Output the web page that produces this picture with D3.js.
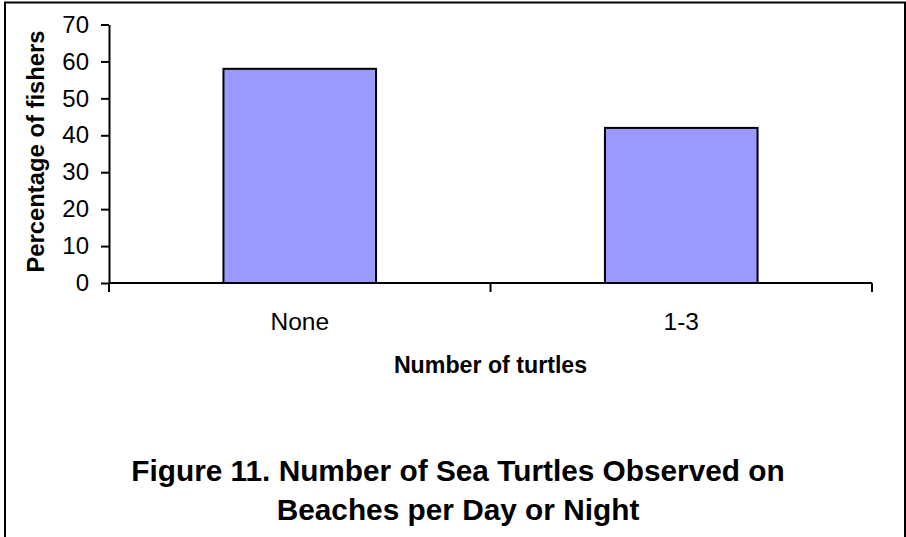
<!DOCTYPE html>
<html>
<head>
<meta charset="utf-8">
<script src="https://cdn.jsdelivr.net/npm/d3@7"></script>
<style>
  html, body { margin: 0; padding: 0; background: #fff; }
  svg { display: block; }
  text { font-family: "Liberation Sans", Arial, sans-serif; fill: #000; }
</style>
</head>
<body>
<script>
// Survey results: share of fishers by number of turtles seen
const categories = ["None", "1-3"];
const percentages = [58, 42];
const yTicks = [0, 10, 20, 30, 40, 50, 60, 70];
const titleLines = ["Figure 11. Number of Sea Turtles Observed on", "Beaches per Day or Night"];
const xTitle = "Number of turtles";
const yTitle = "Percentage of fishers";

const W = 906, H = 537;
const plot = { left: 109, right: 872, top: 24.5, bottom: 283 };
const FONT = "Liberation Sans, Arial, sans-serif";

const svg = d3.select("body").append("svg")
  .attr("width", W).attr("height", H);

// outer frame
svg.append("rect")
  .attr("x", 5).attr("y", 2.5)
  .attr("width", 900).attr("height", 540)
  .attr("fill", "none").attr("stroke", "#000").attr("stroke-width", 2);

const x = d3.scaleBand()
  .domain(categories)
  .range([plot.left, plot.right])
  .paddingInner(0.6).paddingOuter(0.3);

const y = d3.scaleLinear()
  .domain([0, 70])
  .range([plot.bottom, plot.top]);

// bars
svg.append("g").selectAll("rect")
  .data(categories)
  .join("rect")
  .attr("x", d => x(d))
  .attr("y", (d, i) => y(percentages[i]))
  .attr("width", x.bandwidth())
  .attr("height", (d, i) => y(0) - y(percentages[i]))
  .attr("fill", "#9999ff")
  .attr("stroke", "#000")
  .attr("stroke-width", 2);

// y axis
const yAxis = svg.append("g")
  .attr("transform", `translate(${plot.left},0)`)
  .call(d3.axisLeft(y).tickValues(yTicks).tickSize(8).tickSizeOuter(0).tickPadding(12));
yAxis.attr("font-size", 24).attr("font-family", FONT);
yAxis.select(".domain").attr("stroke", "#000").attr("stroke-width", 2);
yAxis.selectAll(".tick line").attr("stroke", "#000").attr("stroke-width", 2);
yAxis.selectAll(".tick text").attr("fill", "#000");

// x axis: ticks at the category boundaries, pointing down
const bounds = [plot.left, (plot.left + plot.right) / 2, plot.right];
const xAxisG = svg.append("g");
xAxisG.append("line")
  .attr("x1", plot.left).attr("x2", plot.right)
  .attr("y1", y(0)).attr("y2", y(0))
  .attr("stroke", "#000").attr("stroke-width", 2);
xAxisG.selectAll("line.tick")
  .data(bounds)
  .join("line")
  .attr("class", "tick")
  .attr("x1", d => d).attr("x2", d => d)
  .attr("y1", y(0)).attr("y2", y(0) + 9)
  .attr("stroke", "#000").attr("stroke-width", 2);
xAxisG.selectAll("text")
  .data(categories)
  .join("text")
  .attr("x", d => x(d) + x.bandwidth() / 2)
  .attr("y", 330)
  .attr("text-anchor", "middle")
  .attr("font-size", 24.5)
  .text(d => d);

// axis titles
svg.append("text")
  .attr("x", (plot.left + plot.right) / 2)
  .attr("y", 373)
  .attr("text-anchor", "middle")
  .attr("font-size", 23.2)
  .attr("font-weight", "bold")
  .text(xTitle);

svg.append("text")
  .attr("transform", `translate(44,151.5) rotate(-90)`)
  .attr("text-anchor", "middle")
  .attr("font-size", 23.8)
  .attr("font-weight", "bold")
  .text(yTitle);

// figure caption
svg.append("g").selectAll("text")
  .data(titleLines)
  .join("text")
  .attr("x", 458)
  .attr("y", (d, i) => 481 + i * 39)
  .attr("text-anchor", "middle")
  .attr("font-size", 29.8)
  .attr("font-weight", "bold")
  .text(d => d);
</script>
</body>
</html>
